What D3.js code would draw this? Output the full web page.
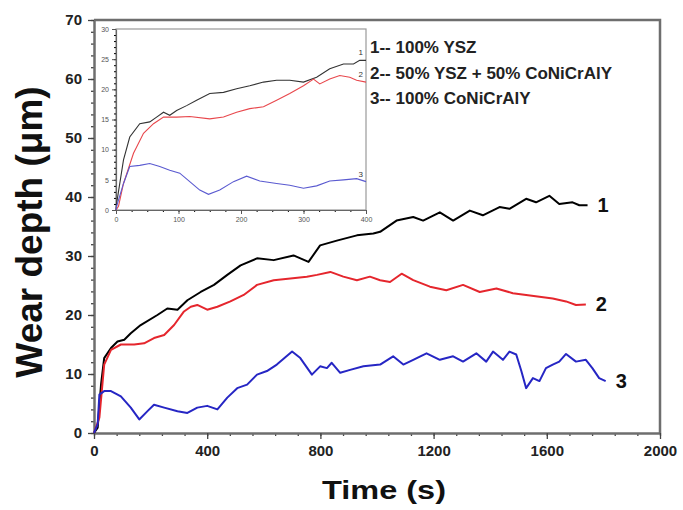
<!DOCTYPE html>
<html>
<head>
<meta charset="utf-8">
<script src="https://d3js.org/d3.v7.min.js"></script>
<style>
  body { margin: 0; background: #fff; }
  svg { display: block; font-family: Arial, "Liberation Sans", sans-serif; }
</style>
</head>
<body>
<svg id="chart" width="683" height="510"></svg>
<script>
// main chart data (time s, wear depth um)
let time1 = [0, 13, 25, 36, 60, 83, 107, 130, 165, 224, 259, 295, 330, 377, 424, 471, 518, 576, 635, 705, 758, 799, 858, 929, 987, 1011, 1069, 1128, 1163, 1222, 1269, 1328, 1374, 1433, 1468, 1527, 1562, 1609, 1644, 1691, 1715, 1744];
let depth1 = [0, 0.9, 8.3, 12.7, 14.4, 15.5, 15.8, 16.9, 18.3, 20, 21.1, 20.9, 22.5, 23.9, 25.1, 26.8, 28.4, 29.6, 29.3, 30.1, 29, 31.8, 32.6, 33.5, 33.8, 34.1, 36, 36.6, 36, 37.4, 36, 37.7, 36.9, 38.3, 38, 39.7, 39.1, 40.2, 38.8, 39.1, 38.6, 38.6];

let time2 = [0, 19, 36, 60, 95, 142, 177, 212, 248, 283, 318, 342, 365, 400, 436, 482, 529, 576, 635, 694, 752, 788, 835, 881, 929, 975, 1011, 1046, 1087, 1128, 1187, 1245, 1304, 1363, 1422, 1480, 1527, 1574, 1621, 1668, 1703, 1738];
let depth2 = [0, 2.6, 11.6, 14.1, 15, 15, 15.2, 16.1, 16.6, 18.3, 20.6, 21.4, 21.7, 20.9, 21.4, 22.3, 23.4, 25.1, 25.9, 26.2, 26.5, 26.8, 27.3, 26.5, 25.9, 26.5, 25.9, 25.6, 27, 25.9, 24.8, 24.2, 25.1, 23.9, 24.5, 23.7, 23.4, 23.1, 22.8, 22.3, 21.7, 21.8];

let time3 = [0, 13, 19, 36, 60, 95, 130, 160, 189, 212, 248, 295, 330, 365, 400, 436, 471, 506, 541, 576, 611, 646, 700, 729, 770, 799, 823, 840, 870, 905, 952, 1011, 1057, 1093, 1128, 1175, 1222, 1269, 1304, 1351, 1386, 1410, 1445, 1468, 1492, 1510, 1527, 1551, 1574, 1597, 1621, 1644, 1668, 1703, 1738, 1761, 1785, 1808];
let depth3 = [0, 1.5, 6.5, 7.1, 7.1, 6.2, 4.3, 2.3, 3.7, 4.8, 4.3, 3.7, 3.4, 4.3, 4.6, 4, 6, 7.6, 8.2, 9.9, 10.5, 11.6, 13.8, 12.7, 9.9, 11.3, 11, 11.9, 10.2, 10.7, 11.3, 11.6, 13, 11.6, 12.4, 13.5, 12.4, 13, 12.1, 13.5, 12.1, 13.8, 12.4, 13.8, 13.3, 10.5, 7.6, 9.3, 8.8, 11, 11.6, 12.1, 13.4, 12.1, 12.4, 11, 9.3, 8.8];

// inset data (first 400 s)
let insetTime1 = [0, 1, 12, 22, 38, 54, 65, 76, 86, 97, 113, 129, 150, 172, 193, 214, 236, 257, 278, 300, 321, 342, 364, 380, 390, 400];
let insetDepth1 = [0, 1.1, 8.3, 12.1, 14.3, 14.6, 15.4, 16.2, 15.7, 16.5, 17.3, 18.2, 19.3, 19.5, 20.1, 20.6, 21.2, 21.5, 21.5, 21.2, 22, 23.4, 24.2, 24.2, 24.8, 24.8];
let insetTime2 = [0, 4, 12, 28, 44, 60, 76, 97, 118, 150, 172, 193, 214, 236, 257, 278, 300, 316, 326, 342, 358, 374, 385, 400];
let insetDepth2 = [0, 0.6, 4.4, 9.4, 12.7, 14.3, 15.4, 15.4, 15.5, 15.1, 15.4, 16.2, 16.8, 17.1, 18.2, 19.3, 20.6, 21.7, 20.9, 21.7, 22.3, 22, 21.5, 21.2];
let insetTime3 = [0, 1, 12, 22, 38, 54, 70, 86, 102, 118, 134, 148, 166, 188, 209, 230, 257, 278, 300, 321, 342, 364, 385, 400];
let insetDepth3 = [0, 0.6, 4.4, 7.2, 7.4, 7.7, 7.2, 6.6, 6.1, 4.7, 3.3, 2.6, 3.3, 4.7, 5.6, 4.8, 4.4, 4.1, 3.6, 4.0, 4.8, 5, 5.2, 4.7];

let xTicks = [0, 400, 800, 1200, 1600, 2000];
let yTicks = [0, 10, 20, 30, 40, 50, 60, 70];
let insetXTicks = [0, 100, 200, 300, 400];
let insetYTicks = [0, 5, 10, 15, 20, 25, 30];
let legendLabels = ["1-- 100% YSZ", "2-- 50% YSZ + 50% CoNiCrAlY", "3-- 100% CoNiCrAlY"];
let curveNames = ["1", "2", "3"];

const svg = d3.select("#chart");
const frameColor = "#6e6e6e";
const plainNum = d3.format("d");

function zip(ts, ds) {
  return ts.map(function (t, i) { return [t, ds[i]]; });
}

// main scales
const x = d3.scaleLinear().domain([0, 2000]).range([94, 660]);
const y = d3.scaleLinear().domain([0, 70]).range([433, 20]);

// frame lines top + right
svg.append("path")
  .attr("d", "M" + x(0) + "," + y(70) + "H" + x(2000) + "V" + y(0))
  .style("fill", "none")
  .style("stroke", frameColor)
  .style("stroke-width", 2.5);

// minor ticks
const xAxisMinor = d3.axisBottom(x).tickValues(d3.range(0, 2001, 80)).tickSize(3).tickFormat("");
svg.append("g").attr("transform", "translate(0," + y(0) + ")").call(xAxisMinor)
  .call(g => g.select(".domain").remove());
const yAxisMinor = d3.axisLeft(y).tickValues(d3.range(0, 71, 2)).tickSize(3).tickFormat("");
svg.append("g").attr("transform", "translate(" + x(0) + ",0)").call(yAxisMinor)
  .call(g => g.select(".domain").remove());

const xAxis = d3.axisBottom(x).tickValues(xTicks).tickFormat(plainNum).tickSize(6).tickPadding(6).tickSizeOuter(0);
const gx = svg.append("g").attr("transform", "translate(0," + y(0) + ")").call(xAxis);
const yAxis = d3.axisLeft(y).tickValues(yTicks).tickFormat(plainNum).tickSize(6).tickPadding(6).tickSizeOuter(0);
const gy = svg.append("g").attr("transform", "translate(" + x(0) + ",0)").call(yAxis);

[gx, gy].forEach(function (g) {
  g.selectAll("text").style("font-size", "15px").style("font-weight", "bold")
    .style("fill", "#222").style("font-family", "Arial, 'Liberation Sans', sans-serif");
  g.select(".domain").style("stroke", frameColor).style("stroke-width", 2.5);
});
svg.selectAll(".tick line").style("stroke", "#444").style("stroke-width", 1.3);

// axis titles
svg.append("text")
  .attr("transform", "translate(384,499) scale(1.25,1)")
  .attr("text-anchor", "middle")
  .style("font-size", "26px").style("font-weight", "bold").style("fill", "#111")
  .text("Time (s)");
svg.append("text")
  .attr("transform", "translate(42,232) rotate(-90)")
  .attr("text-anchor", "middle")
  .style("font-size", "37px").style("font-weight", "bold").style("fill", "#111")
  .text("Wear depth (\u03bcm)");

// main curves
const line = d3.line().x(d => x(d[0])).y(d => y(d[1]));
const mainSeries = [
  { data: zip(time1, depth1), color: "#000000" },
  { data: zip(time2, depth2), color: "#e5262d" },
  { data: zip(time3, depth3), color: "#2626c4" }
];
svg.append("g").selectAll("path")
  .data(mainSeries)
  .enter()
  .append("path")
  .attr("d", d => line(d.data))
  .style("fill", "none")
  .style("stroke", d => d.color)
  .style("stroke-width", 2)
  .style("stroke-linejoin", "round");

// curve labels at line ends
svg.append("g").selectAll("text")
  .data(mainSeries)
  .enter()
  .append("text")
  .attr("x", d => x(d.data[d.data.length - 1][0]) + 10)
  .attr("y", d => y(d.data[d.data.length - 1][1]) + 7)
  .style("font-size", "20px").style("font-weight", "bold").style("fill", "#111")
  .text((d, i) => curveNames[i]);

// inset
const ix = d3.scaleLinear().domain([0, 400]).range([116, 366]);
const iy = d3.scaleLinear().domain([0, 30]).range([210, 29]);

svg.append("rect")
  .attr("x", ix(0)).attr("y", iy(30))
  .attr("width", ix(400) - ix(0)).attr("height", iy(0) - iy(30))
  .style("fill", "white")
  .style("stroke", "#999")
  .style("stroke-width", 1.2);

const ixMinor = d3.axisBottom(ix).tickValues(d3.range(0, 401, 25)).tickSize(2).tickFormat("");
svg.append("g").attr("transform", "translate(0," + iy(0) + ")").call(ixMinor)
  .call(g => g.select(".domain").remove());
const iyMinor = d3.axisLeft(iy).tickValues(d3.range(0, 31, 1)).tickSize(2).tickFormat("");
svg.append("g").attr("transform", "translate(" + ix(0) + ",0)").call(iyMinor)
  .call(g => g.select(".domain").remove());

const gix = svg.append("g").attr("transform", "translate(0," + iy(0) + ")")
  .call(d3.axisBottom(ix).tickValues(insetXTicks).tickFormat(plainNum).tickSize(4).tickPadding(3).tickSizeOuter(0));
const giy = svg.append("g").attr("transform", "translate(" + ix(0) + ",0)")
  .call(d3.axisLeft(iy).tickValues(insetYTicks).tickFormat(plainNum).tickSize(4).tickPadding(3).tickSizeOuter(0));
[gix, giy].forEach(function (g) {
  g.selectAll("text").style("font-size", "7px").style("fill", "#555")
    .style("font-family", "Arial, 'Liberation Sans', sans-serif");
  g.select(".domain").style("stroke", "#666").style("stroke-width", 1.2);
  g.selectAll(".tick line").style("stroke", "#555");
});

const iline = d3.line().x(d => ix(d[0])).y(d => iy(d[1]));
const insetSeries = [
  { data: zip(insetTime1, insetDepth1), color: "#333333" },
  { data: zip(insetTime2, insetDepth2), color: "#e8474c" },
  { data: zip(insetTime3, insetDepth3), color: "#5a5ad0" }
];
svg.append("g").selectAll("path")
  .data(insetSeries)
  .enter()
  .append("path")
  .attr("d", d => iline(d.data))
  .style("fill", "none")
  .style("stroke", d => d.color)
  .style("stroke-width", 1.1);

svg.append("g").selectAll("text")
  .data(insetSeries)
  .enter()
  .append("text")
  .attr("x", ix(400) - 3)
  .attr("y", d => iy(d.data[d.data.length - 1][1]) - 5)
  .attr("text-anchor", "end")
  .style("font-size", "8px").style("fill", "#333")
  .text((d, i) => curveNames[i]);

// legend text
svg.append("g").selectAll("text")
  .data(legendLabels)
  .enter()
  .append("text")
  .attr("x", 370)
  .attr("y", (d, i) => 53 + i * 25.5)
  .style("font-size", "17px").style("font-weight", "bold").style("fill", "#222")
  .text(d => d);
</script>
</body>
</html>
